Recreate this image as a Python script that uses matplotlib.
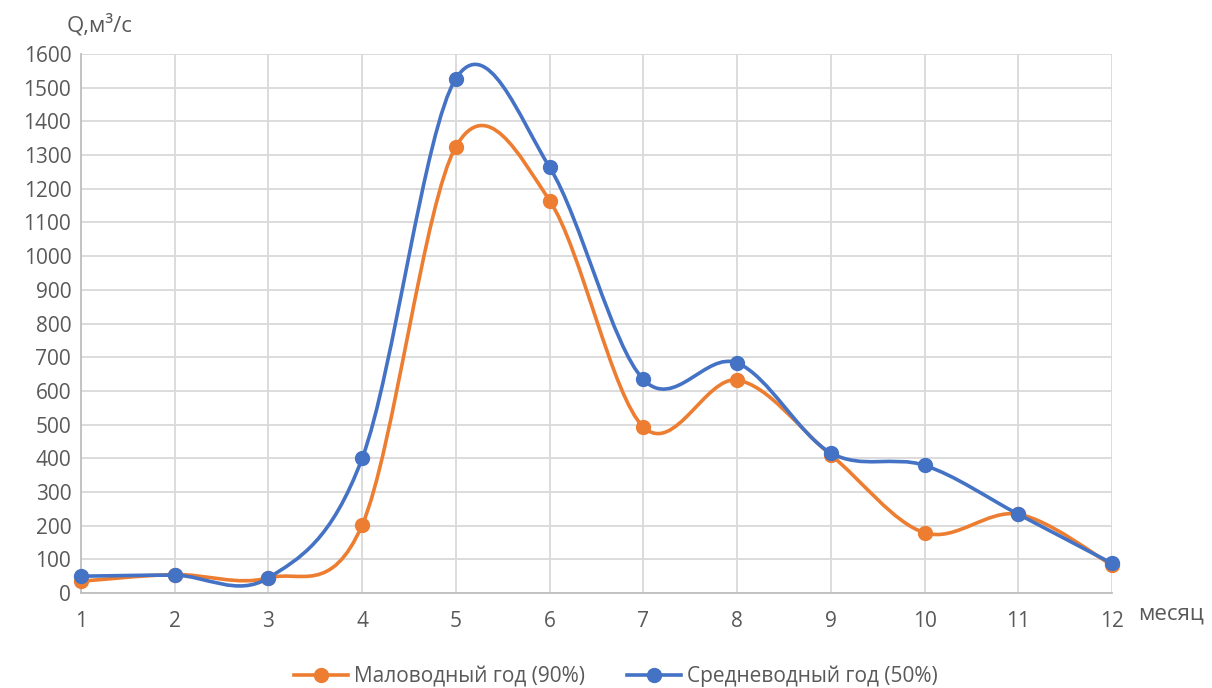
import numpy as np
import matplotlib
matplotlib.use("Agg")
import matplotlib.pyplot as plt
from matplotlib.path import Path
from matplotlib.patches import PathPatch
from matplotlib.lines import Line2D

plt.rcParams["font.family"] = ["Open Sans", "DejaVu Sans"]

months = [1, 2, 3, 4, 5, 6, 7, 8, 9, 10, 11, 12]
low_water = [35, 55, 45, 202, 1325, 1165, 493, 632, 410, 179, 234, 83]
mean_water = [50, 53, 45, 400, 1527, 1264, 634, 683, 416, 379, 234, 88]

ORANGE = "#ED7D31"
BLUE = "#4472C4"
GRID = "#D9D9D9"
TXT = "#595959"


def smooth_path(x, y):
    # Excel-like smoothed line: cubic Bezier segments through the points
    x = np.asarray(x, float)
    y = np.asarray(y, float)
    n = len(x)
    verts = [(x[0], y[0])]
    codes = [Path.MOVETO]
    for i in range(n - 1):
        x0, y0 = x[max(i - 1, 0)], y[max(i - 1, 0)]
        x3, y3 = x[min(i + 2, n - 1)], y[min(i + 2, n - 1)]
        c1 = (x[i] + (x[i + 1] - x0) / 6, y[i] + (y[i + 1] - y0) / 6)
        c2 = (x[i + 1] - (x3 - x[i]) / 6, y[i + 1] - (y3 - y[i]) / 6)
        verts += [c1, c2, (x[i + 1], y[i + 1])]
        codes += [Path.CURVE4] * 3
    return Path(verts, codes)


fig = plt.figure(figsize=(12.12, 6.88), dpi=100)
ax = fig.add_axes([0.0668, 0.138, 0.8507, 0.7835])

for vals, col, z in [(low_water, ORANGE, 3), (mean_water, BLUE, 4)]:
    ax.add_patch(PathPatch(smooth_path(months, vals), fill=False,
                           edgecolor=col, lw=2.6, zorder=z, capstyle="round"))
    ax.plot(months, vals, "o", color=col, ms=10, zorder=z + 0.5, clip_on=False)

ax.set_xlim(1, 12)
ax.set_ylim(0, 1600)
ax.set_xticks(months)
ax.set_yticks(np.arange(0, 1601, 100))
ax.grid(True, color=GRID, lw=1.3)
ax.set_axisbelow(True)
for s in ["top", "right"]:
    ax.spines[s].set_visible(False)
for s in ["left", "bottom"]:
    ax.spines[s].set_color("#BFBFBF")
    ax.spines[s].set_linewidth(1.3)
ax.tick_params(length=0, labelsize=15, colors=TXT)
ax.tick_params(axis="x", pad=13)
ax.tick_params(axis="y", pad=7)

fig.text(0.055, 0.963, "Q,м³/с", fontsize=16, color=TXT, ha="left", va="center")
fig.text(0.939, 0.107, "месяц", fontsize=16, color=TXT, ha="left", va="center")

handles = [Line2D([], [], color=ORANGE, lw=2.6, marker="o", ms=10),
           Line2D([], [], color=BLUE, lw=2.6, marker="o", ms=10)]
fig.legend(handles, ["Маловодный год (90%)", "Средневодный год (50%)"],
           loc="center", bbox_to_anchor=(0.508, 0.017), ncol=2, frameon=False,
           fontsize=15, labelcolor=TXT, handlelength=2.6, handletextpad=0.3,
           columnspacing=2.0)

fig.savefig("out.png", dpi=100)
